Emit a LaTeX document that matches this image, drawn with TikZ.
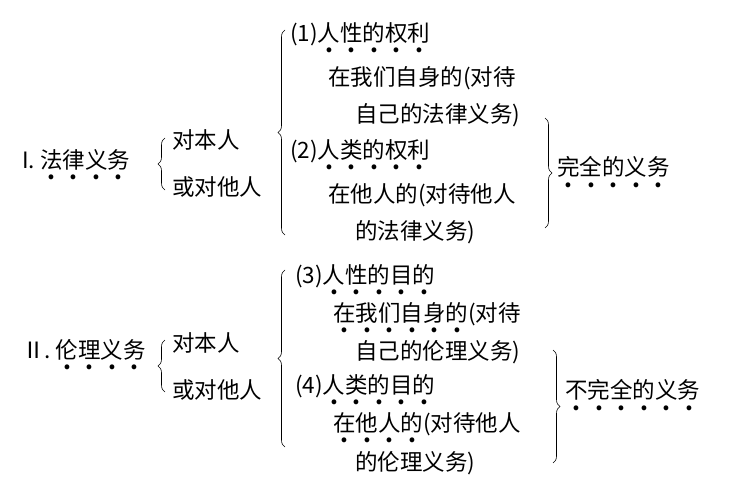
\documentclass[tikz,border=0pt]{standalone}
\usepackage{fontspec}
\setmainfont{Noto Sans CJK SC}
\usetikzlibrary{decorations.pathreplacing}
\newcommand\dotch[1]{\foreach \c in {#1}{\ooalign{\c\cr\hidewidth\raisebox{-0.5em}{\textbf{.}}\hidewidth\cr}}}
\tikzset{txt/.style={anchor=west,inner sep=0pt,font=\fontsize{22.5}{26}\selectfont},
  brc/.style={decorate,decoration={brace,amplitude=7pt},semithick}}
\begin{document}
\begin{tikzpicture}[x=1pt,y=-1pt]
\useasboundingbox (0,0) rectangle (747,503);
% first group
\node[txt] (h1) at (22,165) {I.\ \dotch{法,律,义,务}};
\draw[brc] (165,190) -- (165,138);
\node[txt] (a1) at (172,140) {对本人};
\node[txt] (b1) at (172,187) {或对他人};
\draw[brc] (285,235) -- (285,30);
\node[txt] (p1) at (290,38) {(1)\dotch{人,性,的,权,利}};
\node[txt] (q1) at (328,78) {在我们自身的(对待};
\node[txt] (r1) at (355,115) {自己的法律义务)};
\node[txt] (p2) at (290,155) {(2)\dotch{人,类,的,权,利}};
\node[txt] (q2) at (328,195) {在他人的(对待他人};
\node[txt] (r2) at (355,232) {的法律义务)};
\draw[brc] (545,118) -- (545,228);
\node[txt] (w1) at (557,172) {\dotch{完,全,的,义,务}};
% second group
\node[txt] (h2) at (22,355) {Ⅱ.\ \dotch{伦,理,义,务}};
\draw[brc] (165,392) -- (165,340);
\node[txt] (a2) at (172,343) {对本人};
\node[txt] (b2) at (172,390) {或对他人};
\draw[brc] (285,447) -- (285,270);
\node[txt] (p3) at (295,280) {(3)\dotch{人,性,的,目,的}};
\node[txt] (q3) at (333,318) {\dotch{在,我,们,自,身,的}(对待};
\node[txt] (r3) at (355,352) {自己的伦理义务)};
\node[txt] (p4) at (295,390) {(4)\dotch{人,类,的,目,的}};
\node[txt] (q4) at (333,428) {\dotch{在,他,人,的}(对待他人};
\node[txt] (r4) at (355,463) {的伦理义务)};
\draw[brc] (553,350) -- (553,463);
\node[txt] (w2) at (565,395) {\dotch{不,完,全,的,义,务}};
\end{tikzpicture}
\end{document}
